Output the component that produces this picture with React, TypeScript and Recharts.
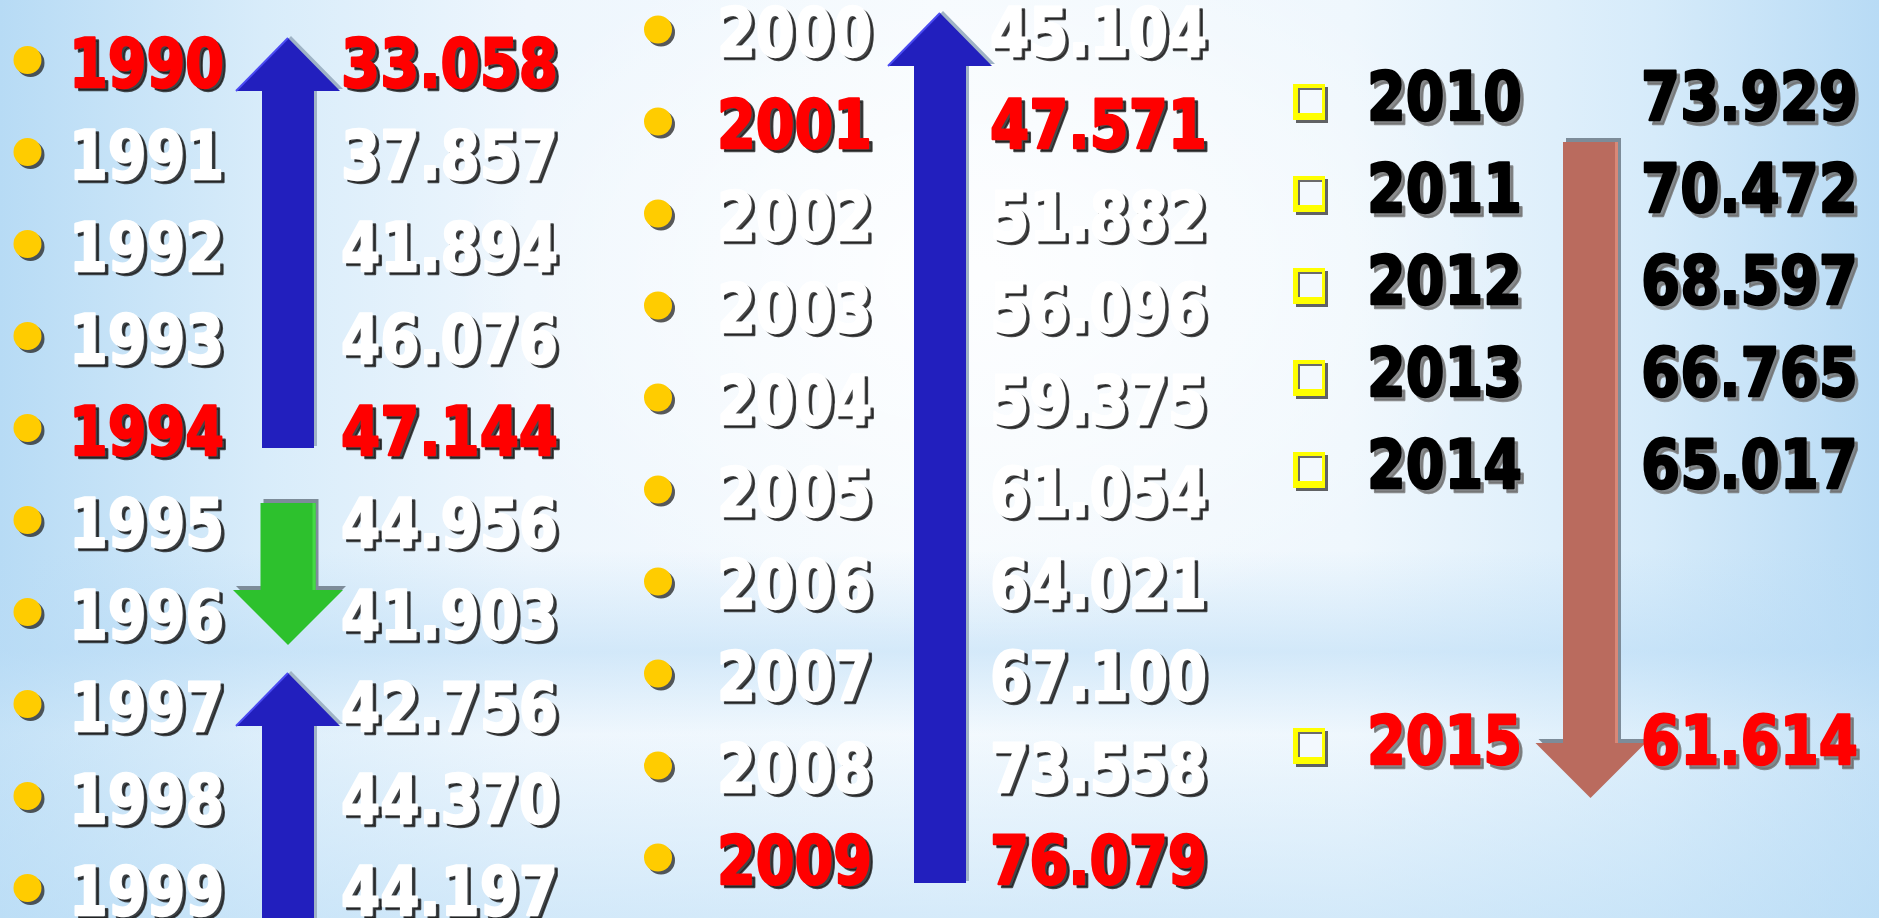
import { ScatterChart, Scatter, XAxis, YAxis, ReferenceLine } from 'recharts';

// --- data ---
const years90s = [1990, 1991, 1992, 1993, 1994, 1995, 1996, 1997, 1998, 1999];
const values90s = [33058, 37857, 41894, 46076, 47144, 44956, 41903, 42756, 44370, 44197];

const years00s = [2000, 2001, 2002, 2003, 2004, 2005, 2006, 2007, 2008, 2009];
const values00s = [45104, 47571, 51882, 56096, 59375, 61054, 64021, 67100, 73558, 76079];

const years10s = [2010, 2011, 2012, 2013, 2014, 2015];
const values10s = [73929, 70472, 68597, 66765, 65017, 61614];

const highlighted = [1990, 1994, 2001, 2009, 2015];

// arrows between years: tail year -> tip year
const trendArrows = [
  { col: 0, from: 1994, to: 1990, kind: 'up' },
  { col: 0, from: 1995, to: 1996, kind: 'down' },
  { col: 0, from: 1999, to: 1997, kind: 'up' },
  { col: 1, from: 2009, to: 2000, kind: 'up' },
  { col: 2, from: 2010, to: 2015, kind: 'fall' },
];

// --- layout ---
const W = 1879;
const H = 918;
const ROW_GAP = 92;
const COL_STEP = 648.5;
const FONT = '"DejaVu Sans", Verdana, sans-serif';

// row slots of the last column (two empty rows before 2015)
const slots10s = [0, 1, 2, 3, 4, 7];

const COLS = [
  { firstCenter: 62.5, bulletX: 27.5, bulletDy: -2.5, yearX: 69, valueX: 341, arrowX: 288, marker: 'dot', ink: '#FFFFFF', shade: '#1c1c1c' },
  { firstCenter: 31.5, bulletX: 9.5, bulletDy: -2, yearX: 68.5, valueX: 341.5, arrowX: 291.5, marker: 'dot', ink: '#FFFFFF', shade: '#1c1c1c' },
  { firstCenter: 96, bulletX: 12, bulletDy: 6, yearX: 70, valueX: 344, arrowX: 293.5, marker: 'box', ink: '#000000', shade: '#6f6f6f' },
];

const ARROW_STYLE: Record<string, any> = {
  up: { fill: '#221FBE', edge: '#4B4BF2', shadow: '#9FB3C6', shaft: 26, head: 52, headLen: 53 },
  down: { fill: '#2DC12D', edge: '#45DA45', shadow: '#7D8C99', shaft: 27.5, head: 55, headLen: 55 },
  fall: { fill: '#BA6B5E', edge: '#D98877', shadow: '#7D8C99', shaft: 27.5, head: 55, headLen: 55 },
};
// how far each arrow runs past its tail / tip rows (px)
const ARROW_PADS = [
  { tail: 17.5, tip: 24.5 },
  { tail: 19.5, tip: 30.5 },
  { tail: 45, tip: 33.5 },
  { tail: 23.5, tip: 18.5 },
  { tail: -46, tip: 58 },
];

const fmt = (v: number) => String(v).replace(/\B(?=(\d{3})+(?!\d))/g, '.');

const makeRows = (years: number[], values: number[], col: number, slots?: number[]) =>
  years.map((year, i) => ({
    x: col,
    y: slots ? slots[i] : i,
    year,
    value: values[i],
    hot: highlighted.includes(year),
  }));

const columns = [
  makeRows(years90s, values90s, 0),
  makeRows(years00s, values00s, 1),
  makeRows(years10s, values10s, 2, slots10s),
];

const yDomain = (firstCenter: number): [number, number] => {
  const a = -firstCenter / ROW_GAP;
  return [a, a + H / ROW_GAP];
};

function ShadowText({ x, y, text, width, fill, shade }: any) {
  return (
    <g fontFamily={FONT} fontWeight="bold" fontSize={67} strokeLinejoin="round">
      <text
        x={x + 3.5}
        y={y + 3.5}
        fill={shade}
        stroke={shade}
        strokeWidth={2.4}
        fillOpacity={0.8}
        strokeOpacity={0.8}
        textLength={width}
        lengthAdjust="spacingAndGlyphs"
      >
        {text}
      </text>
      <text x={x} y={y} fill={fill} stroke={fill} strokeWidth={2.4} textLength={width} lengthAdjust="spacingAndGlyphs">
        {text}
      </text>
    </g>
  );
}

const rowShape = (col: number) => (props: any) => {
  const { cx, cy, payload } = props;
  const c = COLS[col];
  const color = payload.hot ? '#FF0000' : c.ink;
  const base = cy + 24;
  let marker;
  if (c.marker === 'dot') {
    const bx = cx + c.bulletX;
    const by = cy + c.bulletDy;
    marker = (
      <g>
        <circle cx={bx + 3} cy={by + 3} r={14} fill="#222" fillOpacity={0.75} />
        <circle cx={bx} cy={by} r={14} fill="#FFCC00" />
      </g>
    );
  } else {
    const left = cx + c.bulletX - 16;
    const top = cy + c.bulletDy - 18;
    marker = (
      <g>
        <rect x={left + 3} y={top + 3} width={32} height={36} fill="#222" fillOpacity={0.7} />
        <rect x={left} y={top} width={32} height={36} fill="#FFFF00" />
        <rect x={left + 5} y={top + 4} width={24} height={25} fill="#F3F9FE" />
        <path d={`M${left + 6},${top + 29} V${top + 5} H${left + 29}`} stroke="#6b6b6b" strokeWidth={2} fill="none" />
      </g>
    );
  }
  return (
    <g>
      {marker}
      <ShadowText x={cx + c.yearX} y={base} text={String(payload.year)} width={155} fill={color} shade={c.shade} />
      <ShadowText x={cx + c.valueX} y={base} text={fmt(payload.value)} width={217} fill={color} shade={c.shade} />
    </g>
  );
};

const arrowShape = (idx: number) => (props: any) => {
  const { x1, y1, y2 } = props;
  const arrow = trendArrows[idx];
  const s = ARROW_STYLE[arrow.kind];
  const pad = ARROW_PADS[idx];
  const dir = Math.sign(y2 - y1);
  const x = x1 + COLS[arrow.col].arrowX;
  const tail = y1 - dir * pad.tail;
  const tip = y2 + dir * pad.tip;
  const hb = tip - dir * s.headLen;
  const pts = [
    [x - s.shaft, tail],
    [x + s.shaft, tail],
    [x + s.shaft, hb],
    [x + s.head, hb],
    [x, tip],
    [x - s.head, hb],
    [x - s.shaft, hb],
  ];
  const poly = (dx: number, dy: number) => pts.map(([px, py]) => `${px + dx},${py + dy}`).join(' ');
  const off = dir < 0 ? [3, -2] : [3, -4];
  return (
    <g>
      <polygon points={poly(off[0], off[1])} fill={s.shadow} />
      <polygon points={poly(0, 0)} fill={s.fill} />
      {dir < 0 ? (
        <line x1={x - s.head} y1={hb} x2={x} y2={tip} stroke={s.edge} strokeWidth={2} />
      ) : (
        <line x1={x + s.shaft - 1.5} y1={tail} x2={x + s.shaft - 1.5} y2={hb} stroke={s.edge} strokeWidth={3} />
      )}
    </g>
  );
};

const rowOf = (col: number, year: number) => columns[col].find((r) => r.year === year)!.y;

export default function App() {
  return (
    <div
      style={{
        position: 'absolute',
        left: 0,
        top: 0,
        width: W,
        height: H,
        overflow: 'hidden',
        background:
          'radial-gradient(ellipse 28% 40% at 52% 30%, rgba(255,255,255,0.85), rgba(255,255,255,0) 100%),' +
          'linear-gradient(180deg, rgba(255,255,255,0) 0%, rgba(255,255,255,0) 60%, rgba(186,220,246,0.55) 71%, rgba(236,246,253,0.25) 80%, rgba(192,224,247,0.6) 100%),' +
          'linear-gradient(90deg, #B7DBF5 0%, #D8ECFA 14%, #EEF6FD 28%, #F5FAFE 50%, #EFF7FD 72%, #D6EBFA 88%, #B8DBF5 100%)',
      }}
    >
      <ScatterChart width={W} height={H} margin={{ top: 0, right: 0, bottom: 0, left: 0 }}>
        <XAxis type="number" dataKey="x" domain={[0, W / COL_STEP]} allowDataOverflow hide />
        {COLS.map((c, i) => (
          <YAxis
            key={i}
            yAxisId={`c${i}`}
            type="number"
            dataKey="y"
            domain={yDomain(c.firstCenter)}
            reversed
            allowDataOverflow
            hide
          />
        ))}
        {trendArrows.map((a, i) => (
          <ReferenceLine
            key={`arrow-${i}`}
            yAxisId={`c${a.col}`}
            segment={[
              { x: a.col, y: rowOf(a.col, a.from) },
              { x: a.col, y: rowOf(a.col, a.to) },
            ]}
            ifOverflow="visible"
            shape={arrowShape(i)}
          />
        ))}
        {columns.map((rows, i) => (
          <Scatter
            key={i}
            yAxisId={`c${i}`}
            data={rows}
            shape={rowShape(i)}
            isAnimationActive={false}
          />
        ))}
      </ScatterChart>
    </div>
  );
}
